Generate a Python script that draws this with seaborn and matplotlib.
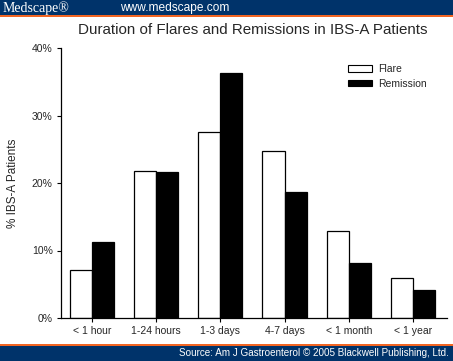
import matplotlib
matplotlib.use("Agg")
import matplotlib.pyplot as plt
import seaborn as sns
import pandas as pd
from matplotlib.patches import Rectangle

categories = ["< 1 hour", "1-24 hours", "1-3 days", "4-7 days", "< 1 month", "< 1 year"]
flare = [7.1, 21.8, 27.6, 24.7, 12.9, 5.9]
remission = [11.2, 21.6, 36.3, 18.7, 8.2, 4.2]
series = ["Flare", "Remission"]
yticks = [0, 10, 20, 30, 40]

df = pd.DataFrame({
    "Duration": categories * 2,
    "Value": flare + remission,
    "Series": ["Flare"] * len(categories) + ["Remission"] * len(categories),
})

sns.set_style("white")
plt.rcParams["font.family"] = ["Liberation Sans", "DejaVu Sans"]

W, H = 453, 361
fig = plt.figure(figsize=(W / 100, H / 100), dpi=100)
ax = fig.add_axes([61 / W, 1 - 318 / H, 386 / W, 270 / H])

sns.barplot(data=df, x="Duration", y="Value", hue="Series", order=categories,
            hue_order=series, palette={"Flare": "white", "Remission": "black"},
            edgecolor="black", linewidth=0.9, width=0.69, ax=ax, legend=True)

ax.set_xlim(-0.48, 5.53)
ax.set_ylim(0, 40)
ax.set_yticks(yticks)
ax.set_yticklabels([f"{v}%" for v in yticks], fontsize=7.5)
ax.set_xticks(range(len(categories)))
ax.set_xticklabels(categories, fontsize=7.5)
ax.set_xlabel("")
ax.set_ylabel("% IBS-A Patients", fontsize=8.5, labelpad=9)
for s in ["top", "right"]:
    ax.spines[s].set_visible(False)
for s in ["left", "bottom"]:
    ax.spines[s].set_color("black")
    ax.spines[s].set_linewidth(0.9)
ax.tick_params(axis="both", direction="out", length=3, width=0.8, color="black",
               left=True, bottom=True, pad=3)

leg = ax.legend(loc="upper left", bbox_to_anchor=(0.744, 0.94), frameon=False,
                fontsize=7.5, handlelength=2.3, handleheight=0.55, labelspacing=0.45,
                handletextpad=0.6, borderaxespad=0, borderpad=0)
for h in leg.legend_handles:
    h.set_edgecolor("black")
    h.set_linewidth(0.8)

fig.text(253 / W, 1 - 30 / H, "Duration of Flares and Remissions in IBS-A Patients",
         ha="center", va="center", fontsize=10.9)

blue = "#00336a"
orange = "#f26522"
fig.add_artist(Rectangle((0, 1 - 15 / H), 1, 15 / H, transform=fig.transFigure,
                         facecolor=blue, edgecolor="none"))
fig.add_artist(Rectangle((0, 1 - 17 / H), 1, 2 / H, transform=fig.transFigure,
                         facecolor=orange, edgecolor="none"))
fig.add_artist(Rectangle((0, 0), 1, 15 / H, transform=fig.transFigure,
                         facecolor=blue, edgecolor="none"))
fig.add_artist(Rectangle((0, 15 / H), 1, 2 / H, transform=fig.transFigure,
                         facecolor=orange, edgecolor="none"))
fig.text(3 / W, 1 - 8 / H, "Medscape®", ha="left", va="center", color="white",
         fontsize=10, family=["Liberation Serif", "DejaVu Serif"])
fig.text(120 / W, 1 - 8 / H, "www.medscape.com", ha="left", va="center", color="white",
         fontsize=8.6)
fig.text(449 / W, 7.5 / H, "Source: Am J Gastroenterol © 2005 Blackwell Publishing, Ltd.",
         ha="right", va="center", color="white", fontsize=7.1)

fig.savefig("out.png", dpi=100, facecolor="white")
